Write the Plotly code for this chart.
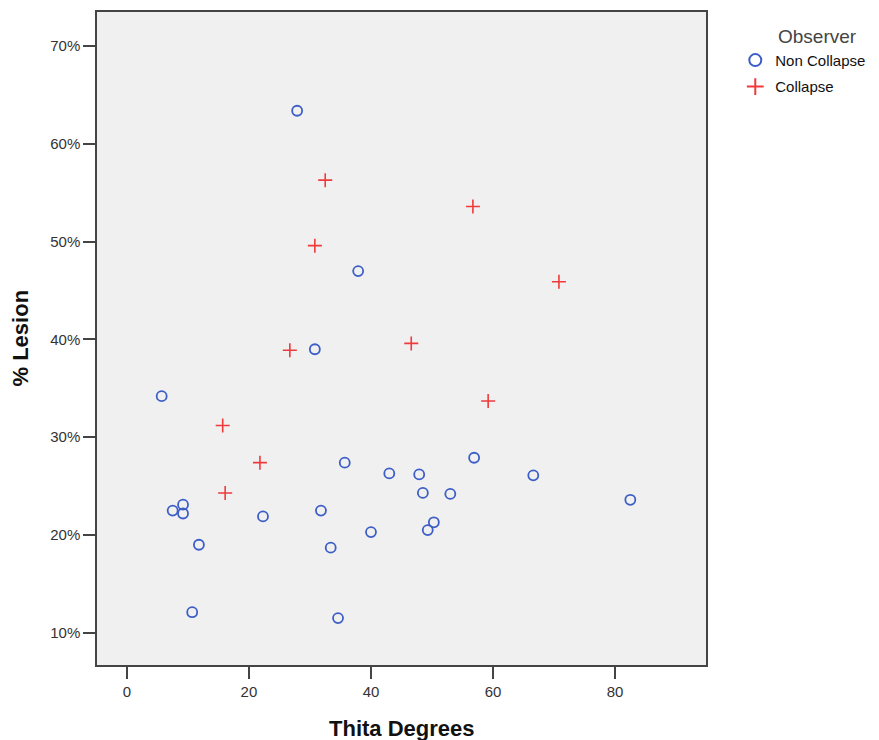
import plotly.graph_objects as go

# Non Collapse observations (theta in degrees, lesion in %)
non_collapse_theta = [27.9, 37.9, 30.8, 5.7, 35.7, 43.0, 47.9, 56.9, 66.6, 82.5,
                      48.5, 53.0, 31.8, 22.3, 7.5, 9.2, 9.2, 11.8, 10.7, 33.4,
                      40.0, 49.3, 50.3, 34.6]
non_collapse_lesion = [63.4, 47.0, 39.0, 34.2, 27.4, 26.3, 26.2, 27.9, 26.1, 23.6,
                       24.3, 24.2, 22.5, 21.9, 22.5, 23.1, 22.2, 19.0, 12.1, 18.7,
                       20.3, 20.5, 21.3, 11.5]

# Collapse observations
collapse_theta = [32.5, 56.7, 30.8, 70.8, 46.6, 26.7, 59.2, 15.7, 21.8, 16.1]
collapse_lesion = [56.3, 53.6, 49.6, 45.9, 39.6, 38.9, 33.7, 31.2, 27.4, 24.3]

y_ticks = [10, 20, 30, 40, 50, 60, 70]
y_tick_labels = ['10%', '20%', '30%', '40%', '50%', '60%', '70%']
x_ticks = [0, 20, 40, 60, 80]

FONT = 'Arial, Liberation Sans, sans-serif'

fig = go.Figure()
fig.add_trace(go.Scatter(
    x=non_collapse_theta, y=non_collapse_lesion, mode='markers',
    name='Non Collapse', legendgroup='nc',
    marker=dict(symbol='circle-open', size=10, color='#3d5ec6',
                line=dict(width=1.8, color='#3d5ec6'))
))
fig.add_trace(go.Scatter(
    x=collapse_theta, y=collapse_lesion, mode='markers',
    name='Collapse', legendgroup='c',
    marker=dict(symbol='cross-thin', size=10, color='#f03a3a',
                line=dict(width=1.6, color='#f03a3a'))
))

axis_common = dict(
    showgrid=False, zeroline=False, showline=True, linecolor='#444444',
    linewidth=1.5, mirror=True, ticks='outside', ticklen=12, tickwidth=1.5,
    tickcolor='#444444', automargin=False,
    tickfont=dict(family=FONT, size=15, color='#333333'),
)

fig.update_xaxes(range=[-4.9, 94.9], tickmode='array', tickvals=x_ticks,
                 ticktext=[str(v) for v in x_ticks], **axis_common)
fig.update_yaxes(range=[6.7, 73.5], tickmode='array', tickvals=y_ticks,
                 ticktext=y_tick_labels, **axis_common)

# axis titles and legend heading placed as annotations
fig.add_annotation(text='<b>Thita Degrees</b>', xref='paper', yref='paper',
                   x=0.5, y=0, xanchor='center', yanchor='middle', yshift=-63,
                   showarrow=False, font=dict(family=FONT, size=22, color='#111111'))
fig.add_annotation(text='<b>% Lesion</b>', xref='paper', yref='paper',
                   x=0, y=0.5, xanchor='center', yanchor='middle', xshift=-77,
                   textangle=-90, showarrow=False,
                   font=dict(family=FONT, size=22, color='#111111'))
fig.add_annotation(text='Observer', xref='paper', yref='paper',
                   x=1.1145, y=0.962, xanchor='left', yanchor='middle',
                   showarrow=False, font=dict(family=FONT, size=19, color='#444444'))

# the page body adds an 8px margin, so the figure is 8px smaller
fig.update_layout(
    width=871, height=732,
    margin=dict(l=89, r=173, t=4, b=75),
    plot_bgcolor='#f0f0f0',
    paper_bgcolor='white',
    font=dict(family=FONT, size=13),
    legend=dict(
        xref='container', yref='container',
        x=0.835, xanchor='left', y=0.951, yanchor='top',
        font=dict(family=FONT, size=15, color='#111111'),
        itemsizing='constant', tracegroupgap=4,
        bgcolor='rgba(0,0,0,0)'
    )
)

fig.write_html("out.html")
